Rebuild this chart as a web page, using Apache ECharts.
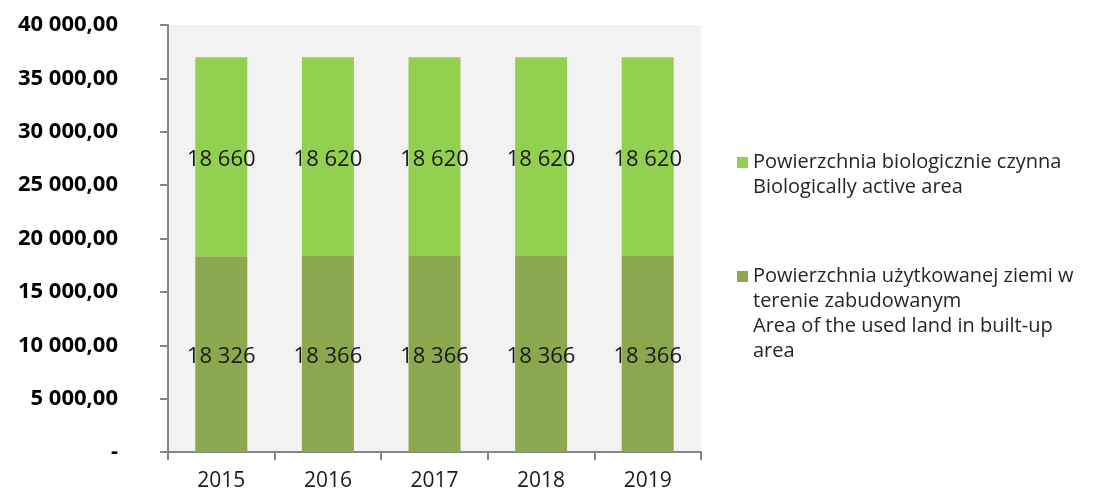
<!DOCTYPE html>
<html>
<head>
<meta charset="utf-8">
<script src="https://cdn.jsdelivr.net/npm/echarts@6/dist/echarts.min.js"></script>
<style>
  html, body { margin: 0; padding: 0; background: #fff; }
  #chart { width: 1100px; height: 488px; }
</style>
</head>
<body>
<div id="chart"></div>
<script>
const years = ['2015', '2016', '2017', '2018', '2019'];
const usedLand = [18326, 18366, 18366, 18366, 18366];
const bioActive = [18660, 18620, 18620, 18620, 18620];
const usedName = 'Powierzchnia użytkowanej ziemi w\nterenie zabudowanym\nArea of the used land in built-up\narea';
const bioName = 'Powierzchnia biologicznie czynna\nBiologically active area';

const FONT = '"Open Sans", sans-serif';

const fmtThousands = (v) => String(v).replace(/\B(?=(\d{3})+(?!\d))/g, ' ');
const fmtAxis = (v) => v === 0 ? '-' : fmtThousands(v) + ',00';

let myChart = echarts.init(document.getElementById('chart'));

const barLabel = {
  show: true,
  position: 'inside',
  offset: [0, 3],
  color: '#1a1a1a',
  fontSize: 22,
  fontFamily: FONT,
  formatter: (p) => fmtThousands(p.value)
};

const legendText = { fontFamily: FONT, fontSize: 20, color: '#262626', lineHeight: 25 };

const option = {
  animation: false,
  grid: {
    left: 168,
    top: 25,
    right: 399,
    bottom: 36,
    containLabel: false,
    outerBoundsMode: 'none',
    show: true,
    backgroundColor: '#F2F2F2',
    borderWidth: 0
  },
  legend: [{
    orient: 'vertical',
    left: 732,
    top: 145,
    data: [bioName],
    itemWidth: 11,
    itemHeight: 50,
    icon: 'path://M0,0M0,7h11v11h-11zM0,50',
    itemGap: 0,
    textStyle: legendText
  }, {
    orient: 'vertical',
    left: 732,
    top: 259,
    data: [usedName],
    itemWidth: 11,
    itemHeight: 100,
    icon: 'path://M0,0M0,7h11v11h-11zM0,100',
    itemGap: 0,
    textStyle: legendText
  }],
  xAxis: {
    type: 'category',
    data: years,
    axisLine: { show: true, lineStyle: { color: '#868686', width: 2 } },
    axisTick: { show: true, alignWithLabel: false, length: 8, lineStyle: { color: '#868686', width: 2 } },
    axisLabel: { fontFamily: FONT, fontSize: 21, color: '#1a1a1a', margin: 19 },
    splitLine: { show: false }
  },
  yAxis: {
    type: 'value',
    min: 0,
    max: 40000,
    interval: 5000,
    axisLine: { show: true, lineStyle: { color: '#868686', width: 2 } },
    axisTick: { show: true, length: 8, lineStyle: { color: '#868686', width: 2 } },
    axisLabel: {
      fontFamily: FONT,
      fontSize: 22,
      fontWeight: 'bold',
      color: '#000',
      margin: 50,
      formatter: fmtAxis
    },
    splitLine: { show: false }
  },
  series: [{
    name: usedName,
    type: 'bar',
    stack: 'total',
    barWidth: 52,
    data: usedLand,
    itemStyle: { color: '#8BA84F' },
    label: barLabel
  }, {
    name: bioName,
    type: 'bar',
    stack: 'total',
    barWidth: 52,
    data: bioActive,
    itemStyle: { color: '#92D050' },
    label: barLabel
  }]
};

myChart.setOption(option, true);
</script>
</body>
</html>
